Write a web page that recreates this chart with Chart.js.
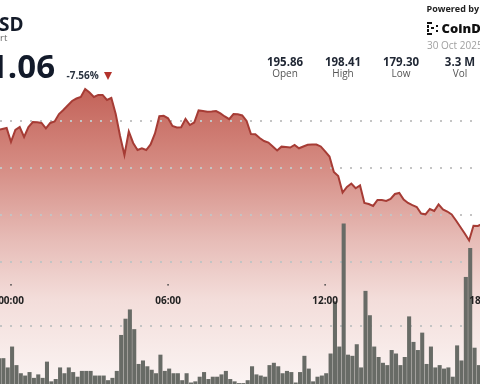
<!DOCTYPE html>
<html><head><meta charset="utf-8">
<script src="https://cdn.jsdelivr.net/npm/chart.js@4.4.1/dist/chart.umd.min.js"></script>
<style>
html,body{margin:0;padding:0;width:480px;height:384px;overflow:hidden;background:#fff;font-family:"Open Sans",sans-serif;}
#wrap{position:absolute;left:0;top:0;width:500px;height:384px;}
canvas{position:absolute;left:0;top:0;}
.t{position:absolute;white-space:nowrap;line-height:1;}
.s{position:absolute;width:60px;text-align:center;line-height:1;white-space:nowrap;}
.num{font-weight:700;font-size:11.5px;color:#1f2633;top:55.5px;}
.lab{font-size:10px;color:#555;top:67.6px;}
.lg{position:absolute;background:#111;}
</style></head><body>
<div id="wrap"><canvas id="c" width="500" height="384"></canvas></div>

<div class="t" style="left:-1px;top:15px;font-size:19px;font-weight:700;color:#141b29;">SD</div>
<div class="t" style="left:0px;top:33.3px;font-size:9.5px;color:#666;">rt</div>
<div class="t" style="left:-11px;top:49px;font-size:33px;font-weight:700;color:#121a2a;">1.06</div>
<div class="t" style="left:66.5px;top:70.4px;font-size:10px;font-weight:700;color:#2a3340;">-7.56%</div>
<div style="position:absolute;left:104px;top:72px;width:0;height:0;border-left:4.5px solid transparent;border-right:4.5px solid transparent;border-top:8px solid #b3322b;"></div>

<div class="t" style="left:426.5px;top:4px;font-size:9px;font-weight:700;color:#222;">Powered by</div>
<div class="lg" style="left:427px;top:22px;width:5px;height:2px;"></div>
<div class="lg" style="left:427px;top:25px;width:2px;height:3px;"></div>
<div class="lg" style="left:427px;top:29px;width:2px;height:3px;"></div>
<div class="lg" style="left:427px;top:33px;width:5px;height:2px;"></div>
<div class="lg" style="left:431px;top:27px;width:3px;height:2px;"></div>
<div class="lg" style="left:436px;top:25px;width:2px;height:2px;"></div>
<div class="lg" style="left:436px;top:30px;width:2px;height:2px;"></div>
<div class="t" style="left:441.5px;top:21.8px;font-size:13px;font-weight:800;color:#111;">CoinDesk</div>
<div class="t" style="left:427px;top:40.1px;font-size:10px;color:#a0a0a0;">30 Oct 2025</div>

<div class="s num" style="left:255px;">195.86</div>
<div class="s lab" style="left:255px;">Open</div>
<div class="s num" style="left:313px;">198.41</div>
<div class="s lab" style="left:313px;">High</div>
<div class="s num" style="left:371px;">179.30</div>
<div class="s lab" style="left:371px;">Low</div>
<div class="s num" style="left:430px;">3.3 M</div>
<div class="s lab" style="left:430px;">Vol</div>

<script>
// 10-minute slots; first slot is 3 slots before 00:00
const firstSlot = -3;
const price = [
 194.04,194.15,194.26,192.77,194.04,194.36,193.30,194.36,194.89,194.86,
 194.79,194.22,194.79,194.95,195.74,196.17,196.65,197.13,197.39,197.55,
 198.41,198.03,197.55,197.77,197.77,197.23,197.45,195.74,193.40,191.38,
 193.88,192.66,191.91,192.10,191.91,192.50,193.67,195.50,195.55,195.29,
 194.47,194.31,194.33,195.21,194.57,194.84,196.12,196.06,195.99,196.01,
 196.06,195.80,195.48,195.19,195.74,195.72,195.59,195.00,193.62,193.59,
 193.19,192.87,192.71,192.29,191.86,192.27,192.23,192.18,192.45,192.10,
 192.29,192.47,192.50,192.50,192.29,191.76,191.22,189.57,189.15,187.39,
 187.98,188.35,187.84,188.14,186.28,186.17,185.96,186.60,186.60,186.49,
 186.70,187.23,187.34,186.65,186.28,186.04,185.85,185.16,185.07,185.64,
 185.43,186.12,185.59,185.37,185.05,184.41,183.72,183.03,182.29,183.86,
 183.83,184.04
];
// volume per slot, thousands
const volume = [
 22,22,14,32,16,9,7,10,5,8,
 5,19,2,4,14,9,14,10,6,11,
 11,11,7,7,7,3,5,11,42,56,
 64,47,17,20,15,12,9,25,11,13,
 9,9,3,9,1,2,6,10,4,6,
 6,8,11,4,2,0.5,0.5,3,15,8,
 7,6,16,18,15,9,11,10,1,10,
 24,13,2,6,7,9,26,71,32,138,
 25,24,34,14,80,59,32,23,18,16,
 29,26,16,23,58,36,29,44,17,32,
 14,16,13,14,6,33,20,92,117,31,
 16,16
];
const tickHours = [0, 6, 12, 18];
const tickLabels = ['00:00', '06:00', '12:00', '18:00'];
const priceGrid = [180, 185, 190, 195];
const volumeGrid = [50];

const slotHours = i => (i + firstSlot) / 6;
const priceData = price.map((v, i) => ({x: slotHours(i), y: v}));
const volumeData = volume.map((v, i) => ({x: slotHours(i) + 1/24, y: v}));

function fillGradient(c) {
  const {ctx, chartArea} = c.chart;
  if (!chartArea) return 'rgba(200,110,100,0.6)';
  const g = ctx.createLinearGradient(0, chartArea.top, 0, chartArea.bottom);
  g.addColorStop(0.22, 'rgb(194,96,86)');
  g.addColorStop(0.42, 'rgb(212,137,128)');
  g.addColorStop(0.63, 'rgb(231,189,184)');
  g.addColorStop(0.78, 'rgb(243,221,218)');
  g.addColorStop(1, 'rgb(251,244,243)');
  return g;
}

// time labels drawn inside the plot, at the x scale's tick positions
const timeAxisLabels = {
  id: 'timeAxisLabels',
  afterDraw(chart) {
    const {ctx} = chart;
    const xs = chart.scales.x;
    const ys = chart.scales.y;
    const dotY = ys.getPixelForValue(177.57);
    ctx.save();
    ctx.font = '700 10px "Open Sans"';
    ctx.textAlign = 'center';
    ctx.textBaseline = 'alphabetic';
    tickHours.forEach((h, i) => {
      const px = xs.getPixelForValue(h);
      ctx.fillStyle = '#444';
      ctx.fillRect(px - 0.75, dotY - 0.75, 1.5, 1.5);
      ctx.fillStyle = '#222';
      ctx.fillText(tickLabels[i], px, dotY + 19.5);
    });
    ctx.restore();
  }
};

const gridStyle = {color: 'rgb(196,196,196)', lineWidth: 2, drawTicks: false};
const gridBorder = {display: false, dash: [2, 8], dashOffset: 0};

new Chart(document.getElementById('c'), {
  data: {
    datasets: [
      {type: 'line', label: 'Price', data: priceData, xAxisID: 'x', yAxisID: 'y',
       borderColor: '#a63c35', borderWidth: 2, pointRadius: 0, tension: 0,
       fill: 'start', backgroundColor: fillGradient, order: 2},
      {type: 'bar', label: 'Volume', data: volumeData, xAxisID: 'x', yAxisID: 'yv',
       backgroundColor: '#686b66', borderWidth: 0, barThickness: 3.4, order: 1}
    ]
  },
  plugins: [timeAxisLabels],
  options: {
    responsive: false, animation: false, events: [],
    layout: {padding: 0},
    plugins: {legend: {display: false}, tooltip: {enabled: false}, filler: {drawTime: 'beforeDraw'}},
    scales: {
      x: {
        type: 'linear', min: -0.42, max: 18.68, display: false, offset: false,
        grid: {offset: false},
        afterBuildTicks: s => { s.ticks = tickHours.map(v => ({value: v})); }
      },
      y: {
        type: 'linear', position: 'left', min: 167.02, max: 207.87,
        ticks: {display: false},
        grid: gridStyle, border: gridBorder,
        afterBuildTicks: s => { s.ticks = priceGrid.map(v => ({value: v})); },
        afterFit: s => { s.width = 0; }
      },
      yv: {
        type: 'linear', position: 'right', min: 0, max: 331.03,
        ticks: {display: false},
        grid: gridStyle, border: gridBorder,
        afterBuildTicks: s => { s.ticks = volumeGrid.map(v => ({value: v})); },
        afterFit: s => { s.width = 0; }
      }
    }
  }
});
</script>
</body></html>
